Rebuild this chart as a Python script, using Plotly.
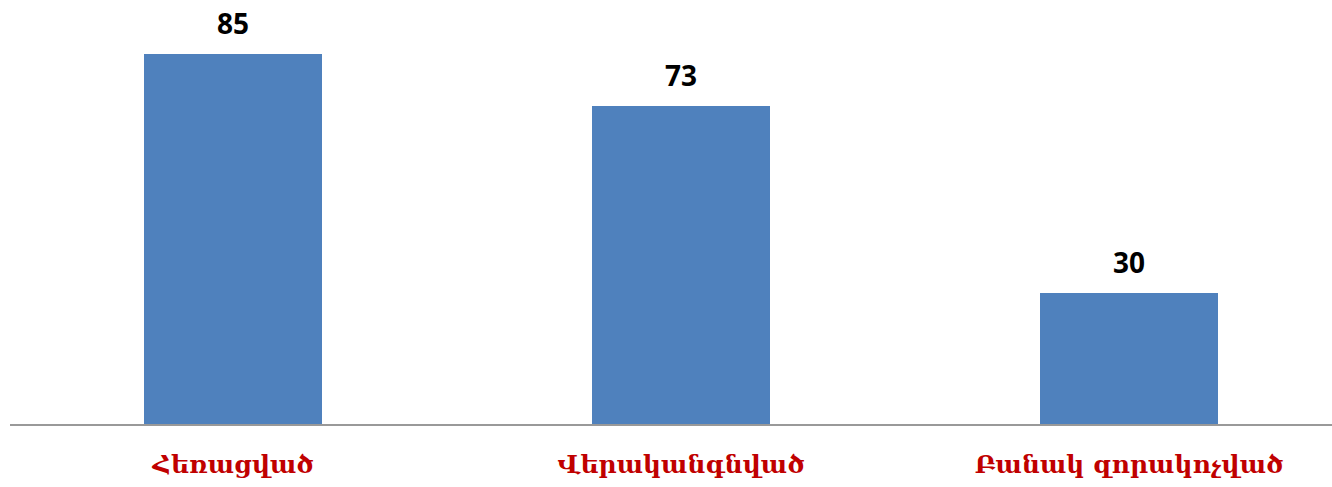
import plotly.graph_objects as go

categories = ["Հեռացված", "Վերականգնված", "Բանակ զորակոչված"]
values = [85, 73, 30]

fig = go.Figure()
fig.add_trace(go.Bar(
    x=list(range(len(categories))),
    y=values,
    width=0.397,
    marker=dict(color="#4F81BD", line=dict(width=0)),
    hoverinfo="skip",
))

for i, v in enumerate(values):
    fig.add_annotation(
        x=i, y=v, text=str(v), showarrow=False,
        yanchor="bottom", yshift=10,
        font=dict(family="Open Sans", size=28, color="#000000", weight="bold"),
    )

fig.update_layout(
    width=1332, height=487,
    margin=dict(l=10, r=0, t=0, b=63),
    paper_bgcolor="white", plot_bgcolor="white",
    showlegend=False,
    bargap=0,
    xaxis=dict(
        range=[-0.498, 2.453],
        tickmode="array",
        tickvals=list(range(len(categories))),
        ticktext=categories,
        tickfont=dict(family="DejaVu Serif", size=25, color="#C00000", weight="bold"),
        showgrid=False, zeroline=False,
        showline=True, linecolor="#999999", linewidth=2,
        ticks="", ticklabelstandoff=17,
    ),
    yaxis=dict(
        range=[0, 97.4],
        visible=False,
        showgrid=False, zeroline=False,
    ),
)

fig.write_html("out.html", config={"displayModeBar": False},
               post_script="document.body.style.margin='0px';")
